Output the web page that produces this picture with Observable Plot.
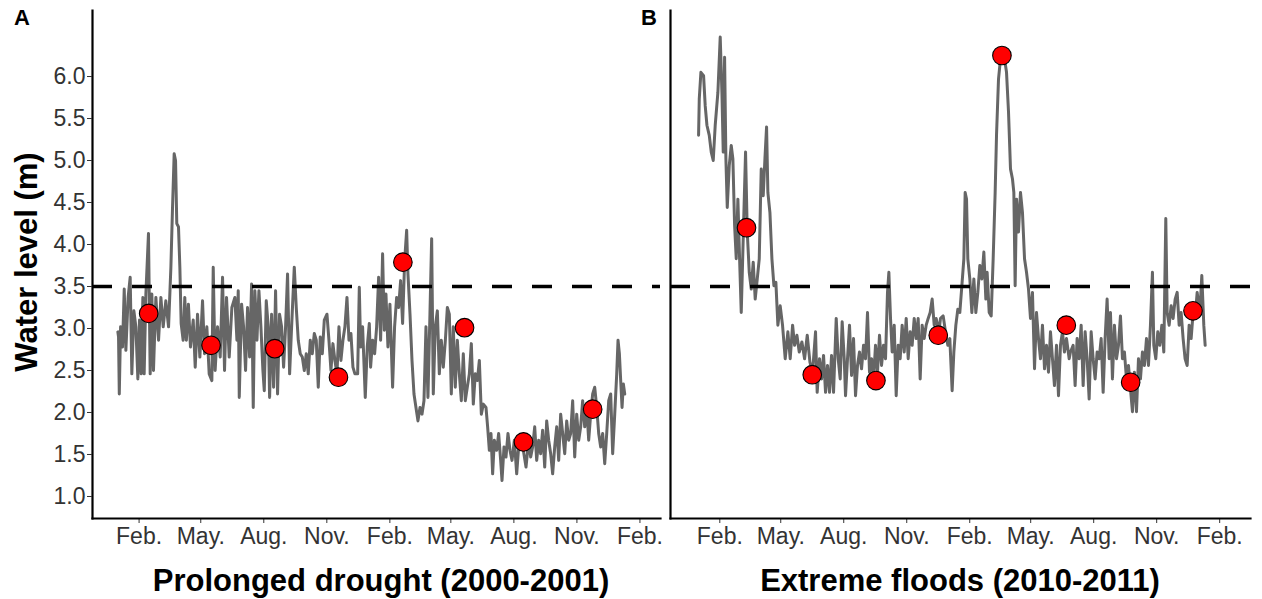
<!DOCTYPE html>
<html>
<head>
<meta charset="utf-8">
<script src="https://cdn.jsdelivr.net/npm/d3@7"></script>
<script src="https://cdn.jsdelivr.net/npm/@observablehq/plot@0.6"></script>
<style>
  html, body { margin: 0; padding: 0; background: #fff; }
  body { font-family: "Liberation Sans", Arial, sans-serif; }
  #figure { position: relative; width: 1262px; height: 599px; overflow: hidden; }
  #figure > .panel { position: absolute; top: 0; }
  .tag { position: absolute; top: 5px; font-weight: bold; font-size: 22px; color: #000; }
  .xtitle { position: absolute; top: 563px; font-weight: bold; font-size: 31px; line-height: 36px; color: #000; text-align: center; white-space: nowrap; }
  .ytitle { position: absolute; font-weight: bold; font-size: 31px; line-height: 36px; color: #000; white-space: nowrap;
            transform: translate(-50%, -50%) rotate(-90deg); }
</style>
</head>
<body>
<div id="figure"></div>
<script>
// Daily water level, sampled along the record (day 0 = 1 January of the first year)
const droughtStart = "2000-01-01";
const droughtDays = [0,1,2.1,4,6.8,9.3,11.7,15,18,20.4,23.4,26.3,29.2,31.6,34,36.5,38.4,40.9,44.7,47.2,49.6,52,55.5,59.4,62.8,66.2,70,74,77.4,79.8,82.2,84.2,86,88.5,90.5,92.4,95.3,97.7,100,103,106,110,112.9,116.3,119.7,123.6,126.5,129.9,133.3,137.2,139.2,142,145.5,149.4,152.8,155.7,158.6,162.5,166.4,
  170.8,173.8,175.7,177.2,180.6,183.5,186.4,189.3,192.3,195.2,197.6,200,203,205.9,208.8,211.7,213.7,216.6,219.5,221.5,224.4,227.3,230.2,233.1,236,239,241.9,244.8,247.7,250.7,253.6,257.5,260.4,263.3,266.2,269.2,272.1,275,277.9,280.8,283.8,286.7,289.6,292.5,295.4,298.4,301.3,305.2,308.1,311,313.9,316.8,319.8,322.7,325.6,328.5,331.4,334.4,337.3,340.2,343.1,346,
  350,352.4,354.3,357.2,361.1,364,367,368.9,371.8,374.8,377.7,380.6,383.5,386.4,388.9,391.3,394.2,397.1,401,403.9,406.9,409.8,412.7,415.6,418.6,421.5,423.4,426.4,429.3,432.2,435.1,438,441,443.9,446.8,449.7,452.6,455.5,458,460.4,463.3,466.3,469.2,472.1,475,478,480.9,483.8,486.7,489.6,492.5,495.5,498.4,501.3,504.2,507.1,510,513,515.9,518.8,521.7,524.7,527.6,530.5,533.4,
  537.3,539.7,542.2,544.6,547,549.5,552.9,555.8,558.7,560.7,563.6,566.5,569.4,572.3,575.3,578.7,582.1,585,587.9,591.8,595.7,599.6,602.5,605.4,608.4,611.3,614.2,617.1,620,623,625.9,628.8,631.7,634.6,637.6,640.5,643.4,646.3,649.2,652.2,655.1,658,660.9,663.8,666.8,669.7,672.6,675.5,678.4,681.4,684.3,687.2,690.1,693,696,698.9,701.8,704.7,707.6,710.6,713.5,716.4,719.3,722.2,725.2,728.1,730,732,733.9,735.9,737.8,739.8];
const droughtLevels = [2.96,2.90,2.22,3.02,2.78,3.47,2.74,3.37,3.61,2.46,3.21,3.02,2.40,3.10,2.46,3.37,2.46,3.41,4.13,2.46,3.41,2.50,3.37,2.86,3.37,3.02,3.33,3.02,3.73,4.44,5.08,5.00,4.25,4.21,3.73,3.06,2.86,3.37,2.86,3.29,2.78,3.10,2.54,3.17,2.66,3.33,2.70,3.02,2.46,2.38,3.73,2.50,3.02,2.66,3.61,2.50,3.37,2.66,3.25,
  3.37,2.86,3.45,2.18,3.29,3.02,2.50,3.25,2.66,3.53,2.06,3.45,2.86,3.45,3.02,2.50,2.26,3.33,3.02,2.18,3.17,2.30,3.45,2.22,3.17,3.02,2.54,3.02,3.65,2.46,3.02,3.73,3.25,2.86,2.70,2.66,2.50,2.70,2.46,2.86,2.70,2.94,2.86,2.30,2.90,2.70,3.10,3.17,2.86,2.50,2.82,2.62,2.46,3.02,2.62,2.86,3.02,3.37,2.86,2.94,2.54,2.46,
  2.46,3.49,2.78,3.02,2.18,2.78,3.06,2.54,2.86,2.70,3.02,3.61,2.86,3.89,2.98,3.41,2.78,3.29,2.30,3.02,3.37,3.25,3.57,3.06,3.81,4.17,3.65,3.17,2.62,2.22,2.06,1.90,2.06,1.98,2.14,3.02,2.18,3.17,4.07,2.22,3.02,3.21,2.46,2.86,2.54,2.86,3.25,3.17,2.22,3.02,2.30,2.86,2.46,2.14,2.70,2.14,2.30,2.46,2.82,2.10,2.46,2.38,2.62,1.98,2.10,
  2.06,1.83,1.55,1.75,1.27,1.67,1.55,1.75,1.43,1.19,1.59,1.47,1.75,1.55,1.43,1.67,1.27,1.59,1.71,1.55,1.35,1.67,1.47,1.59,1.83,1.43,1.67,1.51,1.79,1.35,1.90,1.67,1.51,1.27,1.59,1.83,1.43,1.98,1.75,1.51,1.90,1.67,1.75,2.14,1.47,1.98,1.67,1.83,2.14,1.83,2.06,1.67,1.98,2.22,2.30,2.06,1.75,1.59,1.75,1.39,1.75,2.14,2.22,1.51,1.98,2.46,2.86,2.70,2.38,2.06,2.34,2.22];

const floodStart = "2010-01-01";
const floodDays = [0,1,3.4,7.3,9.7,12.2,15.6,18.5,21.4,24.3,28.2,31.6,34.1,36,38,39.9,41.9,44.8,47.7,50.1,52.6,55,57.4,59.9,62.3,65.7,68.6,71.1,74,76.9,79.8,82.7,85.7,88.6,91.5,94.4,96.9,99.3,101.2,104.2,107.1,110,112.9,115.8,119.2,122.6,126.5,130.4,133.8,137.3,140.2,143.6,147,150.9,154.8,158.7,162.6,166.5,
  170.8,173.2,176.6,179.6,182.5,185.4,188.3,191.2,194.2,197.1,201,203.9,206.8,209.7,212.7,214.6,217.5,220.4,223.4,226.3,229.2,232.1,235,238,240.9,243.8,246.7,249.6,252.6,255.5,258.4,261.3,264.2,267.2,270.1,273,275.9,277.9,280.3,282.7,285.7,288.6,291.5,294.4,297.3,300.3,303.2,306.1,309,311.9,314.9,317.8,320.7,323.6,326.5,329.5,332.4,335.3,338.2,341.1,344.1,347,350.9,
  353.3,357.2,360.6,364,366.9,370.3,372.8,375.7,378.6,381.5,384.5,387.4,389.3,391.3,393.2,396.1,399.1,402,404.9,407.8,410.7,413.7,416.6,419.5,421.4,424.4,427.3,430.2,433.1,435.1,438,440.9,443.8,446.8,449.7,452.6,455.5,458.4,460.4,462.3,464.3,467.2,470.1,473,476,478.9,481.8,484.7,487.6,490.6,493.5,496.4,499.3,502.2,505.2,508.1,511,513.9,516.8,519.7,522.7,525.6,528.5,531.4,534.3,537.3,541.2,
  543.1,547,549.9,552.8,555.8,558.7,561.6,564.5,567.4,570.4,573.3,576.2,579.1,582,585,587.9,590.8,593.7,596.6,599.6,601.5,604.4,607.3,610.3,613.2,616.1,619,621.9,624.9,627.8,630.7,633.6,636.5,639.5,642.4,645.3,648.2,651.1,654.1,657,659.9,662.8,664.8,667.7,670.6,673.5,676.5,679.4,682.3,684.3,687.2,690.1,693,696,698.9,701.8,704.7,707.6,710.5,713.5,716.4,719.3,722.2,725.1,728.1,732,734.9,737.8,739.8];
const floodLevels = [5.30,5.73,6.05,6.01,5.65,5.42,5.30,5.10,5.00,5.42,5.81,6.47,5.81,5.10,6.23,5.02,4.44,4.94,5.18,5.02,4.23,3.83,4.54,3.83,3.19,4.23,5.10,4.15,3.67,3.47,3.79,3.35,3.59,3.83,4.90,4.58,5.02,5.40,4.62,4.38,3.83,3.51,3.55,3.04,3.27,3.04,2.64,2.96,2.64,3.04,2.80,2.92,2.72,2.84,2.64,2.92,2.60,2.48,
  2.96,2.24,2.64,2.40,2.68,2.24,2.56,2.24,2.68,2.24,3.12,2.64,2.40,3.08,2.64,2.20,2.64,3.04,2.44,2.88,2.20,2.56,2.72,2.52,2.80,2.64,3.19,2.48,2.64,2.40,2.80,2.48,2.92,2.56,2.80,2.64,3.43,3.67,3.12,2.72,3.04,2.20,2.80,2.64,3.04,2.72,3.12,2.64,2.96,2.80,3.12,2.88,3.12,2.40,3.04,2.88,3.04,3.12,3.19,3.35,3.04,3.12,2.96,
  3.12,3.15,2.96,2.80,2.88,2.26,2.72,3.04,3.23,3.19,3.51,3.83,4.62,4.54,3.83,3.59,3.19,3.59,3.19,3.43,3.75,3.59,3.91,3.35,3.67,3.19,3.15,3.83,4.62,5.30,5.97,6.21,6.25,6.21,6.05,5.58,4.90,4.78,4.62,3.51,4.54,4.15,4.62,4.38,3.83,3.67,3.47,3.12,3.43,2.52,3.19,2.88,2.64,3.04,2.52,2.80,2.48,2.96,2.64,2.32,2.80,2.20,2.80,2.96,2.72,2.88,2.64,
  2.72,2.80,2.32,2.88,2.64,3.04,2.32,2.96,2.64,2.16,2.96,2.64,2.40,2.72,2.64,2.88,2.24,2.88,3.35,2.64,3.19,2.40,3.04,2.64,2.80,3.15,2.64,2.72,2.40,2.56,2.28,2.01,2.48,2.01,2.64,2.40,2.72,2.56,2.88,2.56,3.04,3.67,2.80,2.64,2.96,2.80,3.04,2.72,4.31,3.19,3.04,3.27,3.12,3.35,3.43,3.04,3.19,2.88,2.64,2.56,3.04,2.88,3.19,3.12,3.43,3.19,3.63,3.04,2.80];

// Sampling campaigns (red dots)
const droughtSampleDates = ["2000-02-15","2000-05-16","2000-08-17","2000-11-18","2001-02-20","2001-05-21","2001-08-15","2001-11-24"];
const droughtSampleLevels = [3.18,2.80,2.76,2.42,3.79,3.01,1.65,2.04];
const floodSampleDates = ["2010-03-12","2010-06-16","2010-09-17","2010-12-17","2011-03-20","2011-06-22","2011-09-24","2011-12-24"];
const floodSampleLevels = [4.20,2.45,2.38,2.92,6.25,3.04,2.36,3.21];

// Flood threshold (m)
const threshold = 3.5;

// Axes
const yTicks = [1.0,1.5,2.0,2.5,3.0,3.5,4.0,4.5,5.0,5.5,6.0];
const yDomain = [0.738, 6.786];
const monthLabels = ["Feb.","May.","Aug.","Nov.","Feb.","May.","Aug.","Nov.","Feb."];
const droughtTicks = ["2000-02-01","2000-05-01","2000-08-01","2000-11-01","2001-02-01","2001-05-01","2001-08-01","2001-11-01","2002-02-01"];
const floodTicks = ["2010-02-01","2010-05-01","2010-08-01","2010-11-01","2011-02-01","2011-05-01","2011-08-01","2011-11-01","2012-02-01"];
const droughtDomain = ["1999-11-25","2002-03-03"];
const floodDomain = ["2009-11-21","2012-03-17"];

const titles = ["Prolonged drought (2000-2001)", "Extreme floods (2010-2011)"];
const tags = ["A", "B"];
const yTitle = "Water level (m)";

const DAY = 864e5;
const toSeries = (start, days, levels) => {
  const t0 = Date.parse(start + "T00:00:00Z");
  return days.map((d, i) => ({date: new Date(t0 + d * DAY), level: levels[i]}));
};
const toSamples = (dates, levels) => dates.map((d, i) => ({date: new Date(d + "T00:00:00Z"), level: levels[i]}));
const asDates = arr => arr.map(d => new Date(d + "T00:00:00Z"));

function panel({series, samples, domain, ticks, width, marginLeft, marginRight, showY}) {
  const tickDates = asDates(ticks);
  const marks = [
    Plot.line(series, {x: "date", y: "level", stroke: "#666666", strokeWidth: 3, strokeLinejoin: "round"}),
    Plot.ruleY([threshold], {stroke: "#000", strokeWidth: 3.5, strokeDasharray: "20,20"}),
    Plot.dot(samples, {x: "date", y: "level", r: 9.3, fill: "#ff0000", stroke: "#000", strokeWidth: 1.1}),
    Plot.axisX({ticks: tickDates, tickSize: 5, tickPadding: 4, label: null,
      tickFormat: d => monthLabels[tickDates.findIndex(t => +t === +d)], fontSize: 23}),
    Plot.frame({anchor: "left", stroke: "#000", strokeWidth: 2.2}),
    Plot.frame({anchor: "bottom", stroke: "#000", strokeWidth: 2.2})
  ];
  if (showY) {
    marks.push(Plot.axisY({ticks: yTicks, tickSize: 5, tickPadding: 2, label: null,
      tickFormat: d3.format(".1f"), fontSize: 23}));
  }
  return Plot.plot({
    width, height: 599,
    marginLeft, marginRight, marginTop: 10, marginBottom: 81,
    x: {type: "utc", domain: asDates(domain)},
    y: {domain: yDomain, axis: showY ? undefined : null},
    style: {fontFamily: '"Liberation Sans", Arial, sans-serif', color: "#333", background: "transparent", overflow: "visible"},
    marks
  });
}

const fig = document.getElementById("figure");

const left = panel({
  series: toSeries(droughtStart, droughtDays, droughtLevels),
  samples: toSamples(droughtSampleDates, droughtSampleLevels),
  domain: droughtDomain, ticks: droughtTicks,
  width: 665, marginLeft: 92, marginRight: 5, showY: true
});
left.classList.add("panel");
left.style.left = "0px";
fig.appendChild(left);

const right = panel({
  series: toSeries(floodStart, floodDays, floodLevels),
  samples: toSamples(floodSampleDates, floodSampleLevels),
  domain: floodDomain, ticks: floodTicks,
  width: 597, marginLeft: 5, marginRight: 12, showY: false
});
right.classList.add("panel");
right.style.left = "665px";
fig.appendChild(right);

// Panel tags, axis titles
const addText = (cls, text, css) => {
  const el = document.createElement("div");
  el.className = cls;
  el.textContent = text;
  Object.assign(el.style, css);
  fig.appendChild(el);
  return el;
};
addText("tag", tags[0], {left: "14px"});
addText("tag", tags[1], {left: "641px"});
addText("xtitle", titles[0], {left: "92px", width: "578px"});
addText("xtitle", titles[1], {left: "670px", width: "580px"});
addText("ytitle", yTitle, {left: "27px", top: "262px"});
</script>
</body>
</html>
